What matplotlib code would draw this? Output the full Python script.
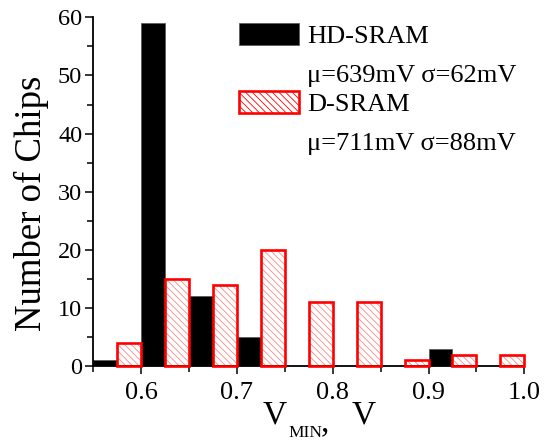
import numpy as np
import matplotlib
matplotlib.use("Agg")
import matplotlib.pyplot as plt
from matplotlib.patches import Patch
from matplotlib.ticker import MultipleLocator

# V_MIN histogram: each 50 mV group holds an HD-SRAM bin and a D-SRAM bin
group_start = [0.55, 0.60, 0.65, 0.70, 0.75, 0.80, 0.85, 0.90, 0.95]
hd_counts = [1, 59, 12, 5, 0, 0, 0, 3, 0]
d_counts = [4, 15, 14, 20, 11, 11, 1, 2, 2]
hd_label = "HD-SRAM"
hd_stats = "\u03bc=639mV \u03c3=62mV"
d_label = "D-SRAM"
d_stats = "\u03bc=711mV \u03c3=88mV"
x_ticks = [0.6, 0.7, 0.8, 0.9, 1.0]
y_ticks = [0, 10, 20, 30, 40, 50, 60]

plt.rcParams["font.family"] = ["Liberation Serif", "DejaVu Serif"]
plt.rcParams["hatch.linewidth"] = 0.6

W, H = 549, 441
fig = plt.figure(figsize=(W / 100, H / 100), dpi=100)
ax = fig.add_axes([0.170, 0.1694, 0.785, 0.7914])

bw = 0.025
hatch = "\\\\\\\\\\"
starts = np.array(group_start)
ax.bar(starts, hd_counts, width=bw, align="edge", color="black",
       edgecolor="#555555", linewidth=0.5, zorder=2)
d_x = starts + bw
ax.bar(d_x, d_counts, width=bw, align="edge", color="white",
       edgecolor="#f68a8a", hatch=hatch, linewidth=0, zorder=2)
ax.bar(d_x, d_counts, width=bw, align="edge", fill=False,
       edgecolor="red", linewidth=1.9, zorder=3, clip_on=False)

ax.set_xlim(0.55, 1.0)
ax.set_ylim(0, 60)
ax.set_xticks(x_ticks)
ax.set_xticklabels([f"{v:.1f}" for v in x_ticks])
ax.set_yticks(y_ticks)
ax.xaxis.set_minor_locator(MultipleLocator(0.05))
ax.yaxis.set_minor_locator(MultipleLocator(5))
ax.tick_params(axis="both", which="both", direction="out", width=1.1)
ax.tick_params(axis="both", which="major", length=6)
ax.tick_params(axis="both", which="minor", length=4)
ax.tick_params(axis="x", labelsize=19, pad=5)
ax.tick_params(axis="y", labelsize=17.5, pad=2)

for side in ("top", "right"):
    ax.spines[side].set_visible(False)
for side in ("left", "bottom"):
    ax.spines[side].set_linewidth(1.3)

ax.set_ylabel("Number of Chips", fontsize=26.5)
ax.yaxis.set_label_coords(-0.103, 0.466)

# x-axis title: V with a small lowered MIN subscript
def px(x, y):
    return x / W, 1 - y / H

fig.text(*px(262.5, 423.3), "V", fontsize=24, ha="left", va="baseline")
fig.text(*px(288, 437), "MIN", fontsize=12.5, ha="left", va="baseline")
fig.text(*px(321, 431.3), ",", fontsize=24, ha="left", va="baseline")
fig.text(*px(351.5, 423.3), "V", fontsize=24, ha="left", va="baseline")

# legends: one block per design, statistics line under each entry
blank = Patch(facecolor="none", edgecolor="none")
leg_kw = dict(loc="upper left", bbox_transform=fig.transFigure,
              frameon=False, fontsize=19, handlelength=2.27,
              handleheight=0.91, handletextpad=0.32, labelspacing=0.53,
              borderpad=0, borderaxespad=0)
leg1 = ax.legend([Patch(facecolor="black", edgecolor="#555555", linewidth=0.5), blank],
                 [hd_label, hd_stats], bbox_to_anchor=px(239, 23), **leg_kw)
ax.add_artist(leg1)
ax.legend([Patch(facecolor="white", edgecolor="red", hatch=hatch, linewidth=1.9), blank],
          [d_label, d_stats], bbox_to_anchor=px(239, 91), **leg_kw)

fig.savefig("out.png", dpi=100)
